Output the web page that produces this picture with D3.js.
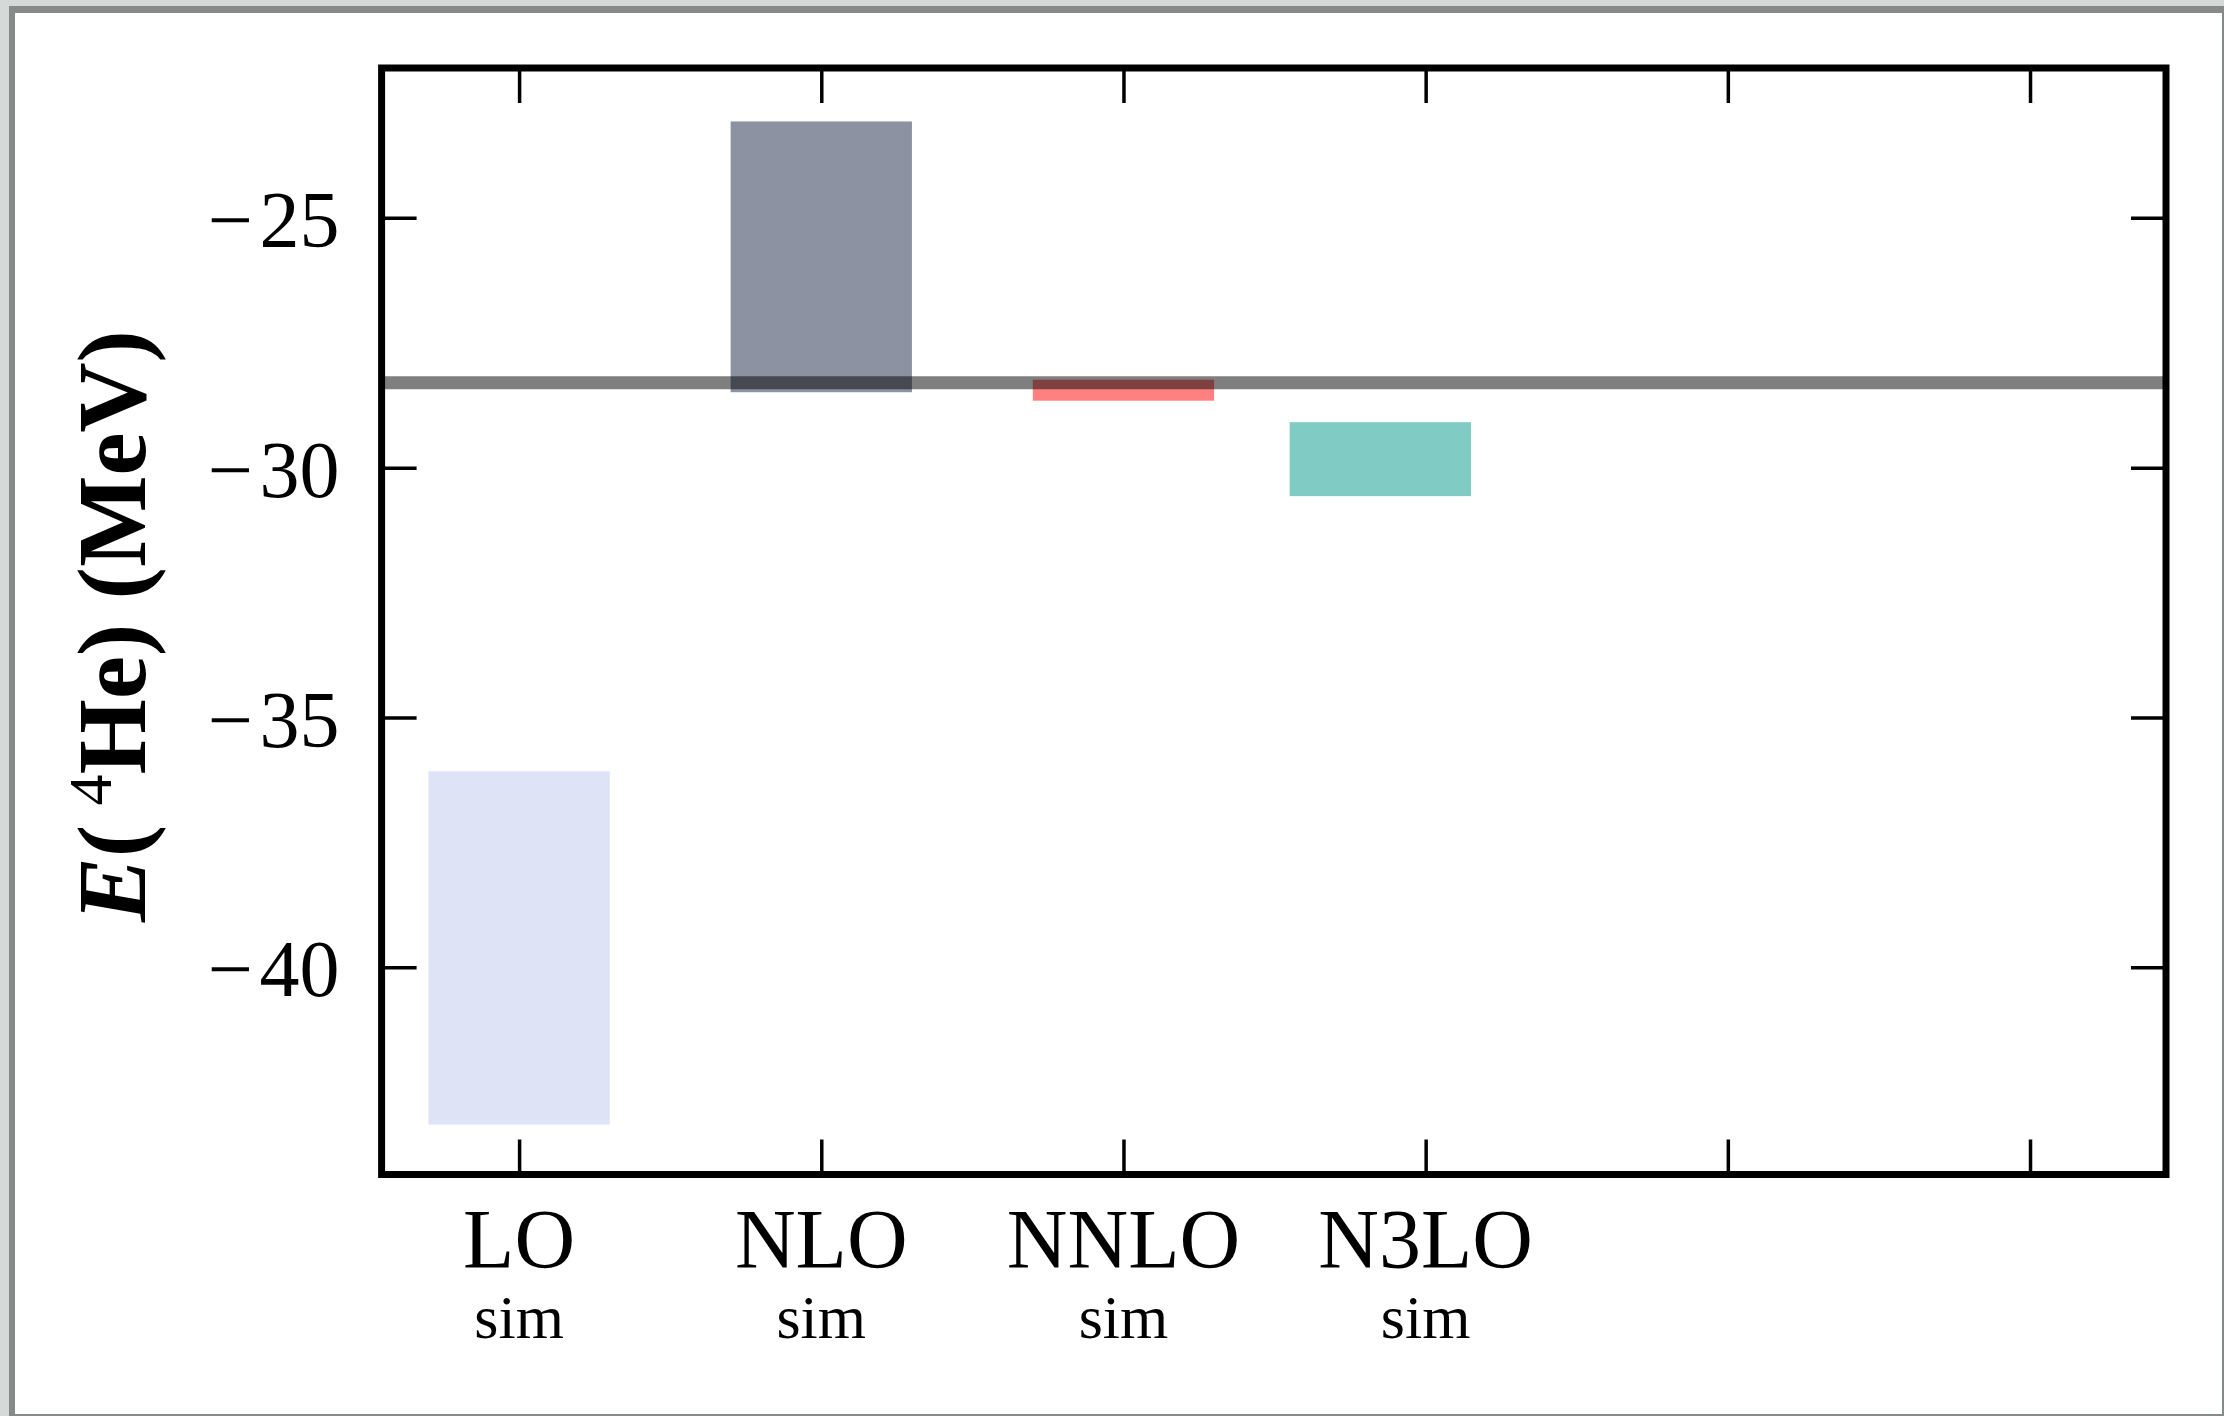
<!DOCTYPE html>
<html>
<head>
<meta charset="utf-8">
<script src="https://cdn.jsdelivr.net/npm/d3@7"></script>
<style>
html,body{margin:0;padding:0;background:#d5d9d8;}
svg{display:block;}
</style>
</head>
<body>
<script>
// ---- data ----
const categories = ["LO", "NLO", "NNLO", "N3LO"];
const subLabels = ["sim", "sim", "sim", "sim"];
const categoryPos = [0, 1, 2, 3];
const barPos = [0, 1, 2, 2.85];
const barLow = [-43.15, -28.49, -28.66, -30.57];
const barHigh = [-36.08, -23.07, -28.24, -29.09];
const barColors = ["#dfe3f6", "#8c92a2", "#ff8080", "#80ccc4"];
const expValue = -28.30;
const yTicks = [-25, -30, -35, -40];
const xTicks = [0, 1, 2, 3, 4, 5];
const barWidth = 0.6;

// ---- layout ----
const W = 2224, H = 1416;
const L = 381.6, R = 2166, T = 68, B = 1174.5;

const svg = d3.select("body").append("svg").attr("width", W).attr("height", H);

// outer frame
svg.append("rect").attr("x", 0).attr("y", 0).attr("width", W).attr("height", H).attr("fill", "#d5d9d8");
svg.append("rect").attr("x", 9).attr("y", 6).attr("width", W - 9).attr("height", H - 6).attr("fill", "#868a89");
svg.append("rect").attr("x", 15).attr("y", 13).attr("width", W - 15 - 2).attr("height", H - 13 - 2).attr("fill", "#ffffff");

const x = d3.scaleLinear().domain([-0.455, 5.45]).range([L, R]);
const y = d3.scaleLinear().domain([-44.15, -22]).range([B, T]);

const plot = svg.append("g");

// bars
plot.selectAll("rect.bar").data(categories).enter().append("rect")
  .attr("class", "bar")
  .attr("x", (d, i) => x(barPos[i] - barWidth / 2))
  .attr("width", (d, i) => x(barPos[i] + barWidth / 2) - x(barPos[i] - barWidth / 2))
  .attr("y", (d, i) => y(barHigh[i]))
  .attr("height", (d, i) => y(barLow[i]) - y(barHigh[i]))
  .attr("fill", (d, i) => barColors[i]);

// experimental line
plot.append("line")
  .attr("x1", x(-0.455)).attr("x2", x(5.45))
  .attr("y1", y(expValue)).attr("y2", y(expValue))
  .attr("stroke", "#000").attr("stroke-opacity", 0.5).attr("stroke-width", 13);

// axes (ticks inside)
const tickLen = 35;
const styleAxis = g => {
  g.select(".domain").remove();
  g.selectAll(".tick line").attr("stroke", "#000").attr("stroke-width", 3.5);
};
svg.append("g").attr("transform", `translate(0,${B})`)
  .call(d3.axisBottom(x).tickValues(xTicks).tickSize(-tickLen).tickFormat(""))
  .call(styleAxis);
svg.append("g").attr("transform", `translate(0,${T})`)
  .call(d3.axisTop(x).tickValues(xTicks).tickSize(-tickLen).tickFormat(""))
  .call(styleAxis);
svg.append("g").attr("transform", `translate(${R},0)`)
  .call(d3.axisRight(y).tickValues(yTicks).tickSize(-tickLen).tickFormat(""))
  .call(styleAxis);
const yAxis = svg.append("g").attr("transform", `translate(${L},0)`)
  .call(d3.axisLeft(y).tickValues(yTicks).tickSize(-tickLen).tickPadding(42)
    .tickFormat(d => "\u2212\u200A" + Math.abs(d)))
  .call(styleAxis);
yAxis.selectAll(".tick text")
  .attr("font-family", "'Liberation Serif', serif")
  .attr("font-size", 80).attr("fill", "#000").attr("dy", "0.36em");

// frame
svg.append("rect").attr("x", L).attr("y", T).attr("width", R - L).attr("height", B - T)
  .attr("fill", "none").attr("stroke", "#000").attr("stroke-width", 7);

// category labels
const lab = svg.append("g");
lab.selectAll("text.cat").data(categories).enter().append("text")
  .attr("class", "cat")
  .attr("x", (d, i) => x(categoryPos[i]))
  .attr("y", 1268)
  .attr("text-anchor", "middle")
  .attr("font-family", "'Liberation Serif', serif")
  .attr("font-size", 84).attr("fill", "#000")
  .text(d => d);
lab.selectAll("text.sub").data(subLabels).enter().append("text")
  .attr("class", "sub")
  .attr("x", (d, i) => x(categoryPos[i]))
  .attr("y", 1338)
  .attr("text-anchor", "middle")
  .attr("font-family", "'Liberation Serif', serif")
  .attr("font-size", 62).attr("fill", "#000")
  .text(d => d);

// y label
const yl = svg.append("text")
  .attr("transform", `translate(145,626) rotate(-90)`)
  .attr("text-anchor", "middle")
  .attr("font-family", "'Liberation Serif', serif")
  .attr("font-weight", "bold")
  .attr("font-size", 97).attr("fill", "#000");
yl.append("tspan").attr("font-style", "italic").text("E");
yl.append("tspan").text("(\u2009");
yl.append("tspan").attr("font-size", 62).attr("font-weight", "normal").attr("dy", -34).text("4");
yl.append("tspan").attr("dy", 34).text("He) (MeV)");
</script>
</body>
</html>
